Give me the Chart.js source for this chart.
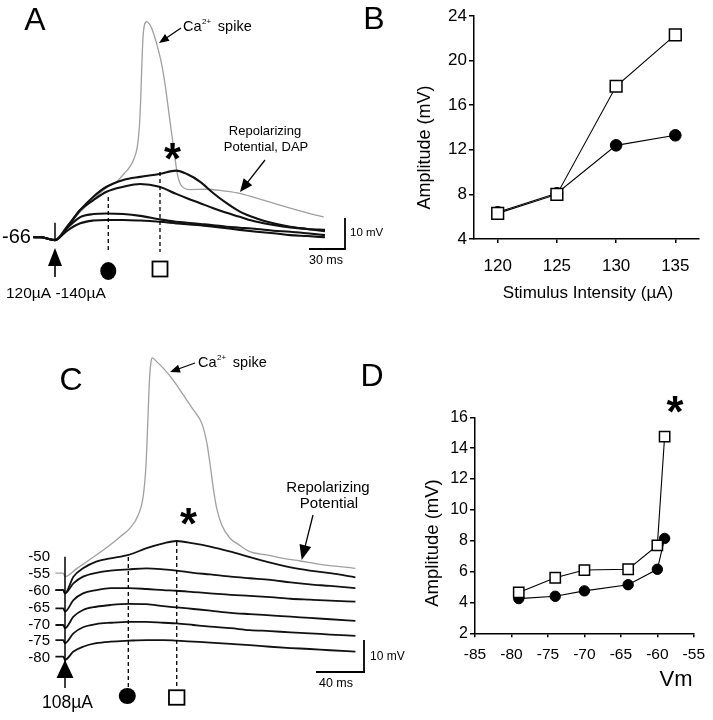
<!DOCTYPE html>
<html>
<head>
<meta charset="utf-8">
<title>Amplitud vs estímulo</title>
<script src="https://cdn.jsdelivr.net/npm/chart.js@4.4.0/dist/chart.umd.min.js"></script>
<style>
  body { margin: 0; background: #fff; }
  #figura { position: relative; width: 713px; height: 720px; background: #fff; overflow: hidden; }
  canvas { position: absolute; }
</style>
</head>
<body>
<div id="figura">
  <canvas id="graficoA" width="400" height="320" style="left:0px;top:0px"></canvas>
  <canvas id="graficoB" width="373" height="320" style="left:340px;top:0px"></canvas>
  <canvas id="graficoC" width="410" height="380" style="left:0px;top:340px"></canvas>
  <canvas id="graficoD" width="373" height="370" style="left:340px;top:350px"></canvas>
</div>
<script>
// ---- Panel A: registros (tiempo en ms, potencial en mV) ----
const tiempoA = [-18, -12, 0, 10, 21, 32, 43, 57, 71, 87, 101, 110, 121, 132, 143, 154, 168, 182, 196, 210, 225];
const dapA = [-66, -66, -66.9, -62.6, -57.2, -52.9, -49.7, -47.5, -46.5, -45.6, -44.5, -45.6, -48.1, -51.8, -55.0, -57.7, -59.9, -61.5, -62.6, -63.3, -64.0];
const trazo2A = [-66, -66, -66.9, -62.9, -57.2, -54.0, -51.3, -49.7, -48.8, -49.7, -52.0, -53.4, -55.0, -56.6, -58.1, -59.4, -61.0, -62.0, -62.8, -63.3, -63.6];
const trazo3A = [-66, -66, -66.9, -63.1, -59.5, -58.5, -58.3, -58.5, -59.1, -60.2, -61.0, -61.3, -61.7, -62.1, -62.6, -62.9, -63.3, -63.9, -64.2, -64.7, -65.3];
const trazo4A = [-66, -66, -66.9, -63.9, -61.5, -60.6, -60.4, -60.4, -60.6, -61.0, -61.5, -61.8, -62.1, -62.6, -63.1, -63.6, -64.2, -64.7, -65.3, -65.6, -66.0];
const tiempoEspigaA = [-18, -12, 0, 10, 21, 32, 43, 52, 57.5, 62.5, 66, 68.5, 70.3, 71.4, 72.3, 73.6, 76.4, 80.6, 84.8, 88.9, 91.7, 94.4, 97.3, 100, 102, 105.6, 112.5, 126, 140, 154, 168, 182, 196, 210, 224];
const espigaA = [-66, -66, -66.9, -63, -57.8, -53.8, -50.0, -47.8, -45.5, -43.2, -40.5, -37, -30.4, -21.7, -11.1, -0.1, 3.6, 1.4, -3.7, -10.2, -16.6, -24.4, -32.8, -40.5, -45.7, -49.5, -50.6, -50.5, -51, -51.8, -53.4, -55, -56.6, -58.1, -59.4];
const medidasA = [44.4, 87.5]; // ms del círculo y del cuadrado

// ---- Panel B ----
const intensidadB = [120, 125, 130, 135];
const cuadradosB = [6.3, 8.0, 17.7, 22.3];
const circulosB = [6.4, 8.1, 12.4, 13.3];
const ticksXB = [120, 125, 130, 135];
const ticksYB = [4, 8, 12, 16, 20, 24];

// ---- Panel C: registros a distintos potenciales ----
const tiempoC = [-8, -1.5, 0, 7, 15, 26, 38, 53, 68, 82, 93, 107, 121, 138, 154, 171, 188, 204, 221, 242];
const trazo1C = [-59.1, -59.1, -60.1, -54.9, -52.3, -50.2, -49.2, -48.1, -46.0, -44.5, -43.75, -44.5, -45.5, -47.1, -48.8, -50.5, -52.0, -53.0, -53.8, -55.1];
const trazo2C = [-59.1, -59.1, -60.1, -57.0, -54.9, -53.7, -53.0, -52.6, -52.3, -52.6, -53.0, -53.7, -54.2, -54.9, -55.4, -55.9, -56.7, -57.3, -57.8, -58.5];
const trazo3C = [-64.8, -64.8, -65.8, -62.2, -60.1, -59.1, -58.5, -58.5, -58.75, -59.1, -59.3, -59.7, -60.1, -60.6, -60.9, -61.3, -61.8, -62.1, -62.4, -62.7];
const trazo4C = [-70, -70, -71.0, -67.4, -65.3, -64.3, -63.75, -63.4, -63.5, -64.1, -64.5, -65.0, -65.5, -66.2, -66.6, -67.0, -67.4, -67.8, -68.2, -68.7];
const trazo5C = [-74.7, -74.7, -75.7, -72.6, -70.7, -69.7, -69.3, -69.0, -69.0, -69.3, -69.5, -70.0, -70.5, -71.0, -71.6, -71.9, -72.3, -72.6, -73.0, -73.4];
const trazo6C = [-79.9, -79.9, -80.9, -78.3, -76.8, -75.7, -75.2, -74.9, -74.7, -74.7, -74.9, -75.2, -75.5, -75.9, -76.3, -76.8, -77.2, -77.5, -77.9, -78.3];
const tiempoEspigaC = [-8, -1.5, 0, 10, 24, 37.5, 46, 54, 61, 65.3, 67.5, 69, 70.3, 71.7, 72.8, 76.4, 82, 90, 98.6, 107, 114, 118, 121, 123.6, 126.4, 130.6, 137.5, 144.4, 154, 168, 182, 196, 210, 242];
const espigaC = [-53.8, -53.8, -54.9, -52.3, -48.7, -45.0, -42.4, -39.8, -35.6, -29.4, -20, -6.5, 6.0, 12.3, 13.5, 12.3, 10.2, 6.6, 1.9, -2.8, -7.0, -12.7, -20, -27.3, -33.5, -38.75, -42.9, -44.8, -47.1, -48.1, -49.2, -50.0, -50.9, -52.3];
const medidasC = [52.75, 93.1];
const etiquetasC = [-50, -55, -60, -65, -70, -75, -80];

// ---- Panel D ----
const vmD = [-79, -74, -70, -64, -60, -59];
const cuadradosD = [4.65, 5.6, 6.1, 6.15, 7.7, 14.75];
const circulosD = [4.25, 4.4, 4.75, 5.15, 6.15, 8.15];
const ticksXD = [-85, -80, -75, -70, -65, -60, -55];
const ticksYD = [2, 4, 6, 8, 10, 12, 14, 16];

const FUENTE = '"Liberation Sans", Arial, Helvetica, sans-serif';
Chart.defaults.font.family = FUENTE;
Chart.defaults.color = '#000';

function puntos(xs, ys) {
    return xs.map((x, i) => ({ x: x, y: ys[i] }));
}

// ---- utilidades de dibujo ----
function texto(ctx, s, x, y, size, align, weight) {
    ctx.font = (weight || 'normal') + ' ' + size + 'px ' + FUENTE;
    ctx.textAlign = align || 'left';
    ctx.textBaseline = 'middle';
    ctx.fillStyle = '#000';
    ctx.fillText(s, x, y);
}

function textoVertical(ctx, s, x, y, size) {
    ctx.save();
    ctx.translate(x, y);
    ctx.rotate(-Math.PI / 2);
    texto(ctx, s, 0, 0, size, 'center');
    ctx.restore();
}

function textoCa(ctx, x, y, size) {
    texto(ctx, 'Ca', x, y, size);
    const w = ctx.measureText('Ca').width;
    texto(ctx, '2+', x + w + 0.5, y - size * 0.38, size * 0.55);
    const w2 = ctx.measureText('2+').width;
    texto(ctx, 'spike', x + w + w2 + size * 0.5, y, size);
}

function linea(ctx, x1, y1, x2, y2, ancho) {
    ctx.lineWidth = ancho;
    ctx.strokeStyle = '#000';
    ctx.beginPath();
    ctx.moveTo(x1, y1);
    ctx.lineTo(x2, y2);
    ctx.stroke();
}

// flecha desde (x1,y1) hasta la punta (x2,y2)
function flecha(ctx, x1, y1, x2, y2, largo, anchoPunta, grosor) {
    const a = Math.atan2(y2 - y1, x2 - x1);
    const bx = x2 - largo * Math.cos(a);
    const by = y2 - largo * Math.sin(a);
    linea(ctx, x1, y1, bx + Math.cos(a) * 2, by + Math.sin(a) * 2, grosor);
    ctx.fillStyle = '#000';
    ctx.beginPath();
    ctx.moveTo(x2, y2);
    ctx.lineTo(bx + anchoPunta / 2 * Math.sin(a), by - anchoPunta / 2 * Math.cos(a));
    ctx.lineTo(bx - anchoPunta / 2 * Math.sin(a), by + anchoPunta / 2 * Math.cos(a));
    ctx.closePath();
    ctx.fill();
}

function circulo(ctx, x, y, rx, ry) {
    ctx.fillStyle = '#000';
    ctx.beginPath();
    ctx.ellipse(x, y, rx, ry, 0, 0, Math.PI * 2);
    ctx.fill();
}

function cuadrado(ctx, x, y, w, h) {
    ctx.fillStyle = '#fff';
    ctx.fillRect(x - w / 2, y - h / 2, w, h);
    ctx.lineWidth = 1.8;
    ctx.strokeStyle = '#000';
    ctx.strokeRect(x - w / 2, y - h / 2, w, h);
}

function estrella(ctx, cx, cy, ancho) {
    ctx.font = 'bold 100px ' + FUENTE;
    const m = ctx.measureText('*');
    const s = 100 * ancho / (m.actualBoundingBoxLeft + m.actualBoundingBoxRight);
    ctx.font = 'bold ' + s + 'px ' + FUENTE;
    const m2 = ctx.measureText('*');
    ctx.textAlign = 'left';
    ctx.textBaseline = 'alphabetic';
    ctx.fillStyle = '#000';
    ctx.fillText('*', cx - (m2.actualBoundingBoxRight - m2.actualBoundingBoxLeft) / 2,
        cy + (m2.actualBoundingBoxAscent - m2.actualBoundingBoxDescent) / 2);
}

// ---- paneles de registros ----
function trazo(ts, vs, gris, grosor) {
    return {
        data: puntos(ts, vs),
        showLine: true,
        borderColor: gris ? '#a0a0a0' : '#111',
        borderWidth: gris ? 1.3 : (grosor || 1.8),
        pointRadius: 0,
        cubicInterpolationMode: 'monotone',
        fill: false
    };
}

function graficoTrazos(id, datasets, lim, plugin, escalasExtra) {
    const escalas = {
        x: { type: 'linear', display: false, min: lim.x0, max: lim.x1 },
        y: { type: 'linear', display: false, min: lim.y0, max: lim.y1 }
    };
    Object.assign(escalas, escalasExtra || {});
    return new Chart(document.getElementById(id), {
        type: 'scatter',
        data: { datasets: datasets },
        options: {
            responsive: false,
            animation: false,
            layout: { padding: 0 },
            plugins: { legend: { display: false }, tooltip: { enabled: false } },
            scales: escalas
        },
        plugins: [plugin]
    });
}

const anotacionesA = {
    id: 'anotacionesA',
    afterDatasetsDraw(chart) {
        const ctx = chart.ctx;
        const x = chart.scales.x;
        ctx.save();
        // estímulo
        const xe = x.getPixelForValue(0);
        linea(ctx, xe, 222.7, xe, 240, 1.5);
        flecha(ctx, xe, 277, xe, 248, 18, 14, 1.6);
        // medidas
        const xc = x.getPixelForValue(medidasA[0]);
        const xq = x.getPixelForValue(medidasA[1]);
        ctx.setLineDash([4, 3]);
        linea(ctx, xc, 197, xc, 253, 1.3);
        linea(ctx, xq, 172, xq, 252, 1.3);
        ctx.setLineDash([]);
        circulo(ctx, xc, 271, 8, 9);
        cuadrado(ctx, xq, 269, 15, 15);
        // barra de escala
        linea(ctx, 345, 218, 345, 250, 1.8);
        linea(ctx, 309, 249, 346, 249, 1.8);
        texto(ctx, '10 mV', 350, 233, 11.5);
        texto(ctx, '30 ms', 326, 261, 12.5, 'center');
        // textos y flechas
        estrella(ctx, 164, 164, 17);
        flecha(ctx, 181, 28, 159, 43, 10, 8, 1.2);
        textoCa(ctx, 183, 27, 14.5);
        flecha(ctx, 265, 160, 240, 192, 13, 11, 1.3);
        texto(ctx, 'Repolarizing', 265, 131, 13, 'center');
        texto(ctx, 'Potential, DAP', 266, 147, 13, 'center');
        texto(ctx, '-66', 2, 237, 20);
        texto(ctx, '120µA -140µA', 6, 294, 15.5);
        texto(ctx, 'A', 35, 21, 32, 'center');
        ctx.restore();
    }
};

const anotacionesC = {
    id: 'anotacionesC',
    afterDatasetsDraw(chart) {
        const ctx = chart.ctx;
        const x = chart.scales.x;
        const yl = chart.scales.yl;
        ctx.save();
        ctx.translate(0, -340);
        // estímulo
        const xe = x.getPixelForValue(0);
        linea(ctx, xe, 556.7, xe, 688, 1.5);
        flecha(ctx, xe, 670, xe, 660, 18, 17, 1.5);
        // medidas
        const xc = x.getPixelForValue(medidasC[0]);
        const xq = x.getPixelForValue(medidasC[1]);
        ctx.setLineDash([4, 3]);
        linea(ctx, xc, 557, xc, 688, 1.3);
        linea(ctx, xq, 542, xq, 688, 1.3);
        ctx.setLineDash([]);
        circulo(ctx, xc - 1, 696, 8.5, 8);
        cuadrado(ctx, xq, 697.5, 15.5, 14.5);
        // etiquetas de potencial
        etiquetasC.forEach(v => {
            texto(ctx, String(v), 50, yl.getPixelForValue(v) + 340, 15, 'right');
        });
        // barra de escala
        linea(ctx, 364, 640, 364, 673, 1.8);
        linea(ctx, 316, 672, 365, 672, 1.8);
        texto(ctx, '10 mV', 370, 657, 12);
        texto(ctx, '40 ms', 336, 684, 12.5, 'center');
        // textos y flechas
        estrella(ctx, 180, 529, 17);
        flecha(ctx, 195, 363, 170, 372, 10, 8, 1.2);
        textoCa(ctx, 198, 363, 14.5);
        flecha(ctx, 313, 515, 301.7, 560, 15, 12, 1.3);
        texto(ctx, 'Repolarizing', 328, 487.5, 15, 'center');
        texto(ctx, 'Potential', 329, 504, 15, 'center');
        texto(ctx, '108µA', 42, 703, 17.5);
        texto(ctx, 'C', 71, 381, 32, 'center');
        ctx.restore();
    }
};

graficoTrazos('graficoA', [
    trazo(tiempoA, dapA, false, 2.1),
    trazo(tiempoA, trazo2A, false, 2.1),
    trazo(tiempoA, trazo3A, false, 2.1),
    trazo(tiempoA, trazo4A, false, 2.1),
    trazo(tiempoEspigaA, espigaA, true)
], { x0: -45.83, x1: 287.5, y0: -92.68, y1: 10.55 }, anotacionesA);

graficoTrazos('graficoC', [
    trazo(tiempoC, trazo1C),
    trazo(tiempoC, trazo2C),
    trazo(tiempoC, trazo3C),
    trazo(tiempoC, trazo4C),
    trazo(tiempoC, trazo5C),
    trazo(tiempoC, trazo6C),
    trazo(tiempoEspigaC, espigaC, true)
], { x0: -54.17, x1: 287.5, y0: -99.69, y1: 19.06 }, anotacionesC,
   { yl: { type: 'linear', display: false, min: -98.22, max: 13.98 } });

// ---- paneles de amplitud ----
function serieCuadrados(xs, ys, radio) {
    return {
        data: puntos(xs, ys), showLine: true, borderColor: '#000', borderWidth: 1.1,
        pointStyle: 'rect', pointRadius: radio, pointBackgroundColor: '#fff',
        pointBorderColor: '#000', pointBorderWidth: 1.5, tension: 0
    };
}

function serieCirculos(xs, ys, radio) {
    return {
        data: puntos(xs, ys), showLine: true, borderColor: '#000', borderWidth: 1.1,
        pointStyle: 'circle', pointRadius: radio, pointBackgroundColor: '#000',
        pointBorderColor: '#000', pointBorderWidth: 1, tension: 0
    };
}

function graficoAmplitud(id, cfg) {
    return new Chart(document.getElementById(id), {
        type: 'scatter',
        data: { datasets: cfg.datasets },
        options: {
            responsive: false,
            animation: false,
            layout: { padding: cfg.padding },
            plugins: { legend: { display: false }, tooltip: { enabled: false } },
            scales: {
                x: {
                    type: 'linear', min: cfg.xMin, max: cfg.xMax,
                    afterBuildTicks: s => { s.ticks = cfg.ticksX.map(v => ({ value: v })); },
                    afterFit: s => { s.height = cfg.altoX; },
                    grid: { drawOnChartArea: false, drawTicks: true, tickLength: 4, color: '#000', lineWidth: 1.5 },
                    border: { display: true, color: '#000', width: 1.5 },
                    ticks: { font: { size: cfg.fuenteX }, color: '#000', padding: cfg.padX, maxRotation: 0 }
                },
                y: {
                    type: 'linear', min: cfg.yMin, max: cfg.yMax,
                    afterBuildTicks: s => { s.ticks = cfg.ticksY.map(v => ({ value: v })); },
                    afterFit: s => { s.width = cfg.anchoY; },
                    grid: { drawOnChartArea: false, drawTicks: true, tickLength: 5, color: '#000', lineWidth: 1.5 },
                    border: { display: true, color: '#000', width: 1.5 },
                    ticks: { font: { size: cfg.fuenteY }, color: '#000', padding: 2 }
                }
            }
        },
        plugins: [cfg.plugin]
    });
}

graficoAmplitud('graficoB', {
    datasets: [serieCuadrados(intensidadB, cuadradosB, 8.3), serieCirculos(intensidadB, circulosB, 5.8)],
    padding: { top: 16, right: 14, left: 0, bottom: 0 },
    xMin: 118, xMax: 137, yMin: 4, yMax: 24,
    ticksX: ticksXB, ticksY: ticksYB,
    altoX: 81, anchoY: 134, fuenteX: 17, fuenteY: 17, padX: 13.5,
    plugin: {
        id: 'textosB',
        afterDraw(chart) {
            const ctx = chart.ctx;
            ctx.save();
            ctx.translate(-340, 0);
            texto(ctx, 'B', 374, 20, 32, 'center');
            textoVertical(ctx, 'Amplitude (mV)', 425, 147.5, 18);
            texto(ctx, 'Stimulus Intensity (µA)', 588, 293, 17, 'center');
            ctx.restore();
        }
    }
});

graficoAmplitud('graficoD', {
    datasets: [serieCuadrados(vmD, cuadradosD, 7.3), serieCirculos(vmD, circulosD, 5.2)],
    padding: { top: 67.3, right: 16.3, left: 0, bottom: 0 },
    xMin: -85, xMax: -55, yMin: 2, yMax: 16,
    ticksX: ticksXD, ticksY: ticksYD,
    altoX: 86.7, anchoY: 135, fuenteX: 15.5, fuenteY: 16, padX: 8,
    plugin: {
        id: 'textosD',
        afterDraw(chart) {
            const ctx = chart.ctx;
            ctx.save();
            ctx.translate(-340, -350);
            texto(ctx, 'D', 372, 377, 32, 'center');
            textoVertical(ctx, 'Amplitude (mV)', 433, 543, 18.5);
            texto(ctx, 'Vm', 676, 680, 22, 'center');
            estrella(ctx, 666.5, 417, 17);
            ctx.restore();
        }
    }
});
</script>
</body>
</html>
